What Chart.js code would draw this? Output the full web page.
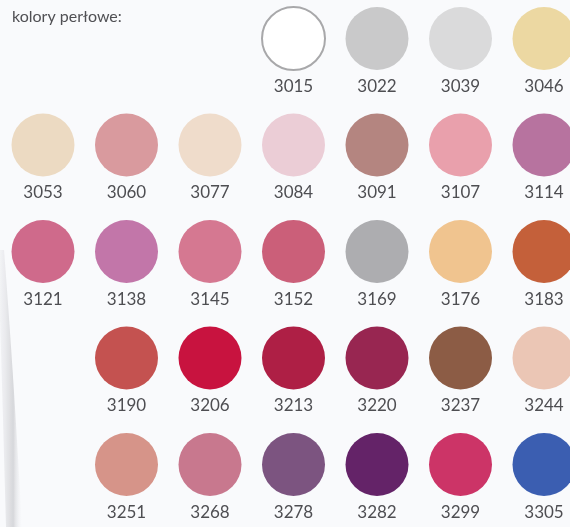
<!DOCTYPE html>
<html lang="pl">
<head>
    <meta charset="UTF-8">
    <title>kolory perłowe</title>
    <script src="https://cdn.jsdelivr.net/npm/chart.js"></script>
    <style>
        html, body { margin: 0; padding: 0; background: #f9fafc; }
        .wrap { position: relative; width: 570px; height: 527px; overflow: hidden; }
    </style>
</head>
<body>
    <div class="wrap">
        <canvas id="myChart"></canvas>
    </div>
    <script>
        const title = "kolory perłowe:";
        const codes = ["3015", "3022", "3039", "3046",
            "3053", "3060", "3077", "3084", "3091", "3107", "3114",
            "3121", "3138", "3145", "3152", "3169", "3176", "3183",
            "3190", "3206", "3213", "3220", "3237", "3244",
            "3251", "3268", "3278", "3282", "3299", "3305"];
        const cols = [3, 4, 5, 6,
            0, 1, 2, 3, 4, 5, 6,
            0, 1, 2, 3, 4, 5, 6,
            1, 2, 3, 4, 5, 6,
            1, 2, 3, 4, 5, 6];
        const rows = [0, 0, 0, 0,
            1, 1, 1, 1, 1, 1, 1,
            2, 2, 2, 2, 2, 2, 2,
            3, 3, 3, 3, 3, 3,
            4, 4, 4, 4, 4, 4];
        const colors = ["#ffffff", "#c9c9ca", "#dadadb", "#ecd8a2",
            "#ecdac2", "#d99a9e", "#efdccb", "#ebcdd6", "#b48580", "#e9a0ac", "#b7739f",
            "#cf6a8b", "#c276a9", "#d57891", "#cb5f79", "#adadb0", "#f0c48f", "#c4603a",
            "#c45250", "#c8133f", "#ae1f45", "#982651", "#8c5c45", "#ebc6b5",
            "#d69489", "#c8788e", "#7c5480", "#642368", "#cc3467", "#3b5eb1"];

        const points = codes.map((c, i) => ({ x: cols[i], y: rows[i] }));

        // page edge shadow + title + code labels
        const swatchText = {
            id: 'swatchText',
            beforeDatasetsDraw(chart) {
                const ctx = chart.ctx;
                ctx.save();
                const g = ctx.createLinearGradient(0, 0, 22, 0);
                g.addColorStop(0, 'rgba(215,215,220,0.2)');
                g.addColorStop(0.6, 'rgba(185,185,190,0.55)');
                g.addColorStop(1, 'rgba(240,240,244,0.0)');
                ctx.fillStyle = g;
                ctx.beginPath();
                ctx.moveTo(0, 250);
                ctx.lineTo(4, 250);
                ctx.quadraticCurveTo(14, 380, 22, 527);
                ctx.lineTo(6, 527);
                ctx.quadraticCurveTo(2, 380, 0, 320);
                ctx.closePath();
                ctx.fill();
                ctx.restore();
            },
            afterDatasetsDraw(chart) {
                const ctx = chart.ctx;
                const meta = chart.getDatasetMeta(0);
                ctx.save();
                ctx.fillStyle = '#505054';
                ctx.font = '16px Lato, "Open Sans", sans-serif';
                ctx.textAlign = 'left';
                ctx.textBaseline = 'alphabetic';
                ctx.fillText(title, 12, 22);
                ctx.fillStyle = '#4e4e52';
                ctx.font = '17px Lato, "Open Sans", sans-serif';
                ctx.textAlign = 'center';
                ctx.textBaseline = 'middle';
                meta.data.forEach((p, i) => {
                    ctx.fillText(codes[i], p.x, p.y + 48);
                });
                ctx.restore();
            }
        };

        new Chart("myChart", {
            type: "scatter",
            data: {
                datasets: [{
                    data: points,
                    backgroundColor: colors,
                    borderColor: codes.map(c => c === "3015" ? "#a8a8aa" : "rgba(0,0,0,0)"),
                    borderWidth: codes.map(c => c === "3015" ? 2 : 0),
                    pointRadius: 31.5,
                    pointHoverRadius: 31.5,
                    clip: false
                }]
            },
            options: {
                responsive: true,
                maintainAspectRatio: false,
                animation: false,
                events: [],
                layout: { padding: 0, autoPadding: false },
                scales: {
                    x: { type: 'linear', display: false, min: -43 / 83.5, max: (570 - 43) / 83.5 },
                    y: { type: 'linear', display: false, reverse: true, min: -38.5 / 106.5, max: (527 - 38.5) / 106.5 }
                },
                plugins: {
                    legend: { display: false },
                    tooltip: { enabled: false }
                }
            },
            plugins: [swatchText]
        });
    </script>
</body>
</html>
